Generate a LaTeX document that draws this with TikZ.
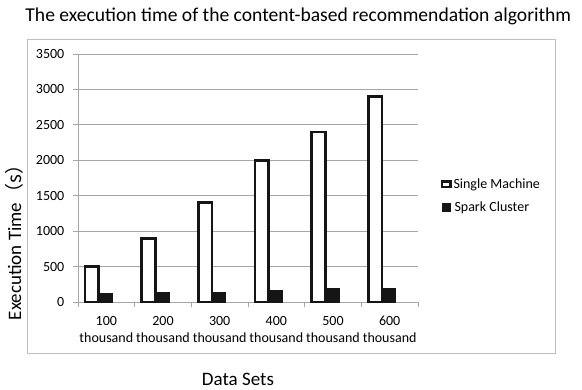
\documentclass[tikz,border=0pt]{standalone}
\usepackage{fontspec}
\setmainfont{Carlito}
\newfontfamily\cjkfont{Noto Sans CJK SC}
\definecolor{boxgray}{HTML}{BFBFBF}
\definecolor{gridgray}{HTML}{A6A6A6}
\definecolor{barblack}{HTML}{151515}
\begin{document}
\begin{tikzpicture}[x=1pt,y=-1pt,
  frame/.style={draw=boxgray,line width=1pt},
  gridline/.style={draw=gridgray,line width=0.9pt},
  singlebar/.style={draw=barblack,line width=2.8pt,fill=white},
  sparkbar/.style={fill=barblack,draw=none},
  small/.style={font=\fontsize{14}{16}\selectfont,inner sep=0pt,text=black},
  big/.style={font=\fontsize{19}{22}\selectfont,inner sep=0pt,text=black}]
\useasboundingbox (0,0) rectangle (582,389);
\fill[white] (0,0) rectangle (582,389);
% title
\node[font=\fontsize{19.6}{22}\selectfont,inner sep=0pt,anchor=base] (title) at (298.3,21.5)
  {The execution time of the content-based recommendation algorithm};
% chart frame
\draw[frame] (27,39.3) rectangle (555,353);
% gridlines and y labels
\foreach \v [count=\i] in {500,1000,1500,2000,2500,3000,3500}{
  \pgfmathsetmacro\yy{302-\v/3500*248}
  \coordinate (gl\i) at (78,\yy);
  \coordinate (gr\i) at (418,\yy);
  \draw[gridline] (gl\i) -- (gr\i);
  \draw[gridline] (gl\i) -- ++(-5,0);
  \node[small,anchor=east] (yl\i) at (64.5,\yy) {\v};
}
\node[small,anchor=east] (yl0) at (64.5,302) {0};
% axes
\coordinate (o) at (78,302);
\coordinate (ytop) at (78,54);
\coordinate (xend) at (418,302);
\draw[gridline] (ytop) -- (o) -- (xend);
\draw[gridline] (o) -- ++(-5,0);
\foreach \k in {0,...,6}{
  \coordinate (tk\k) at ({78+\k*340/6},302);
  \draw[gridline] (tk\k) -- ++(0,4.5);
}
% bars
\foreach \k/\sv/\st/\lab in {0/500/293.3/100,1/900/292.3/200,2/1400/291.7/300,3/2000/290/400,4/2400/288.3/500,5/2900/288.3/600}{
  \pgfmathsetmacro\c{78+\k*340/6}
  \pgfmathsetmacro\ys{302-\sv/3500*248}
  \fill[sparkbar] ({\c+21.5},\st) rectangle ({\c+35},302.5) node[pos=0.5,inner sep=0pt] (spark\k) {};
  \draw[singlebar] ({\c+6.9},302) rectangle ({\c+20.6},\ys) node[pos=0.5,inner sep=0pt] (single\k) {};
  \node[small,anchor=center] (cat\k) at ({\c+340/12},320.7) {\lab};
  \node[small,anchor=center] (th\k) at ({\c+340/12},338) {thousand};
}
% axis titles
\node[big,rotate=90,anchor=center] (ytitle) at (14,238) {Execution Time\cjkfont （s）};
\node[big,anchor=center] (xtitle) at (238,379.5) {Data Sets};
% legend
\draw[draw=barblack,line width=2.6pt,fill=white] (442,181.3) rectangle (450.4,187);
\node[inner sep=0pt] (legsingle) at (446.2,184.2) {};
\node[small,anchor=west] (legtext1) at (453.3,185) {Single Machine};
\fill[barblack] (441.7,202.7) rectangle (450.7,211.7);
\node[inner sep=0pt] (legspark) at (446.2,207.2) {};
\node[small,anchor=west] (legtext2) at (454.3,207.3) {Spark Cluster};
\end{tikzpicture}
\end{document}
